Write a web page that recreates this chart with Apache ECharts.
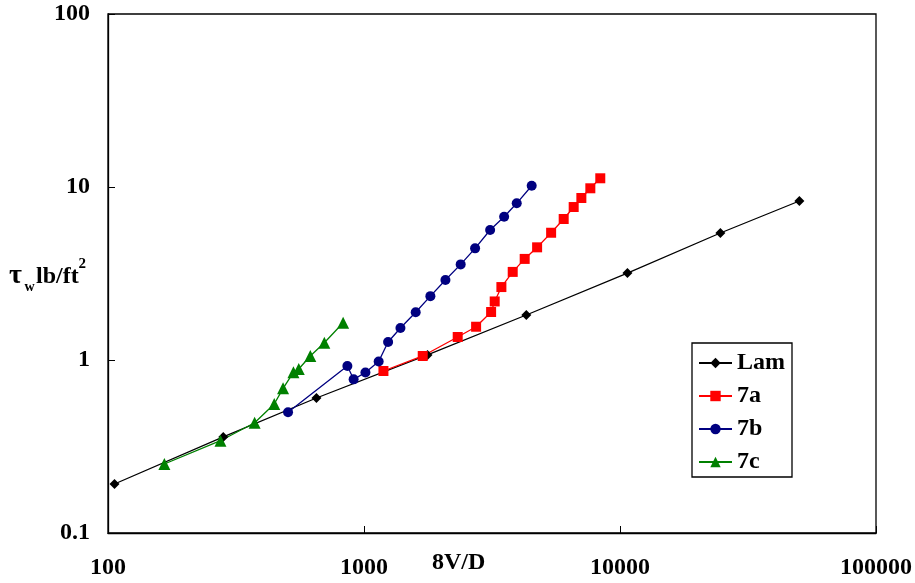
<!DOCTYPE html>
<html>
<head>
<meta charset="utf-8">
<script src="https://cdn.jsdelivr.net/npm/echarts@6/dist/echarts.min.js"></script>
<style>html,body{margin:0;padding:0;background:#fff}#c{width:915px;height:583px}</style>
</head>
<body>
<div id="c"></div>
<script>
// Data (x = 8V/D, y = tau_w lb/ft^2)
const lamX = [106, 282, 652, 1770, 4305, 10690, 24660, 50200];
const lamY = [0.192, 0.359, 0.603, 1.07, 1.82, 3.18, 5.42, 8.30];

const a7X = [1191, 1696, 2323, 2741, 3137, 3240, 3441, 3810, 4243, 4745, 5382, 6026, 6593, 7064, 7658, 8375];
const a7Y = [0.864, 1.055, 1.358, 1.557, 1.894, 2.18, 2.64, 3.23, 3.84, 4.48, 5.44, 6.53, 7.66, 8.64, 9.83, 11.23];

const b7X = [505, 861, 911, 1013, 1141, 1242, 1388, 1592, 1817, 2080, 2386, 2716, 3109, 3527, 3950, 4519];
const b7Y = [0.499, 0.923, 0.773, 0.847, 0.98, 1.27, 1.53, 1.887, 2.34, 2.90, 3.57, 4.42, 5.64, 6.73, 8.05, 10.17];

const c7X = [166, 275, 374, 446, 483, 530, 556, 617, 700, 829];
const c7Y = [0.2505, 0.3416, 0.434, 0.557, 0.686, 0.849, 0.887, 1.055, 1.259, 1.643];

const xTicks = ['100', '1000', '10000', '100000'];
const yTicks = ['0.1', '1', '10', '100'];
const seriesNames = ['Lam', '7a', '7b', '7c'];

const FONT = 'Liberation Serif';
const zip = (xs, ys) => xs.map((x, i) => [x, ys[i]]);

const chart = echarts.init(document.getElementById('c'));
const mk = (name, xs, ys, color, symbol, size) => ({
  name, type: 'line', data: zip(xs, ys), symbol, symbolSize: size,
  lineStyle: { color, width: 1.3 }, itemStyle: { color },
  emphasis: { disabled: true }, animation: false
});

chart.setOption({
  animation: false,
  grid: { left: 108, top: 14, right: 38, bottom: 50, show: true, borderColor: '#000', borderWidth: 1.3, containLabel: false },
  xAxis: {
    type: 'log', logBase: 10, min: 100, max: 100000,
    axisLine: { show: true, lineStyle: { color: '#000', width: 1.3 } },
    axisTick: { show: true, inside: true, length: 7, lineStyle: { color: '#000' } },
    minorTick: { show: false },
    splitLine: { show: false },
    axisLabel: {
      margin: 23, color: '#000', fontFamily: FONT, fontWeight: 'bold', fontSize: 24,
      formatter: v => { const i = Math.round(Math.log10(v)) - 2; return xTicks[i] !== undefined ? xTicks[i] : ''; }
    }
  },
  yAxis: {
    type: 'log', logBase: 10, min: 0.1, max: 100,
    axisLine: { show: true, lineStyle: { color: '#000', width: 1.3 } },
    axisTick: { show: true, inside: true, length: 7, lineStyle: { color: '#000' } },
    minorTick: { show: false },
    splitLine: { show: false },
    axisLabel: {
      margin: 18, color: '#000', fontFamily: FONT, fontWeight: 'bold', fontSize: 24,
      formatter: v => { const i = Math.round(Math.log10(v)) + 1; return yTicks[i] !== undefined ? yTicks[i] : ''; }
    }
  },
  legend: {
    orient: 'vertical', left: 692, top: 343,
    padding: [8, 7, 3, 6], itemGap: 9, itemWidth: 33, itemHeight: 13,
    borderColor: '#000', borderWidth: 1.3, backgroundColor: '#fff',
    textStyle: { color: '#000', fontFamily: FONT, fontWeight: 'bold', fontSize: 24, lineHeight: 22 },
    data: seriesNames
  },
  series: [
    mk(seriesNames[0], lamX, lamY, '#000000', 'diamond', 10),
    mk(seriesNames[1], a7X, a7Y, '#FF0000', 'rect', 10),
    mk(seriesNames[2], b7X, b7Y, '#000080', 'circle', 10),
    mk(seriesNames[3], c7X, c7Y, '#008000', 'triangle', 12)
  ],
  graphic: [
    { type: 'text', left: 432, top: 551, style: { text: '8V/D', font: 'bold 24px "Liberation Serif"', fill: '#000' } },
    { type: 'text', x: 9, y: 275.5, style: { text: 'τ', font: 'bold 28px "Liberation Serif"', fill: '#000', verticalAlign: 'middle' } },
    { type: 'text', x: 24.5, y: 287.5, style: { text: 'w', font: 'bold 14px "Liberation Serif"', fill: '#000', verticalAlign: 'middle' } },
    { type: 'text', x: 36, y: 277, style: { text: 'lb/ft', font: 'bold 24px "Liberation Serif"', fill: '#000', verticalAlign: 'middle' } },
    { type: 'text', x: 78.5, y: 264.5, style: { text: '2', font: 'bold 15px "Liberation Serif"', fill: '#000', verticalAlign: 'middle' } }
  ]
});
</script>
</body>
</html>
